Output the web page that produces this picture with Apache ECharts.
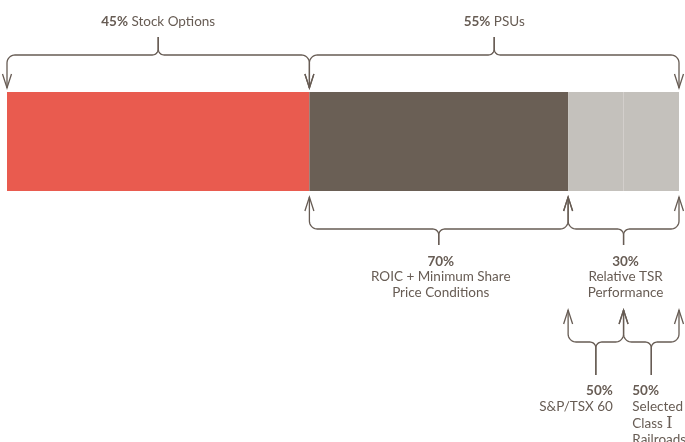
<!DOCTYPE html>
<html>
<head>
<meta charset="utf-8">
<script src="https://cdn.jsdelivr.net/npm/echarts@6/dist/echarts.min.js"></script>
<style>html,body{margin:0;padding:0;background:#fff}#c{width:685px;height:442px}</style>
</head>
<body>
<div id="c"></div>
<script>
// ---- data ----
const topShares = [45, 55];                 // Stock Options, PSUs (%)
const topLabels = ['Stock Options', 'PSUs'];
const psuSplit = [70, 30];                  // ROIC..., Relative TSR (% of PSUs)
const psuLabels = [['ROIC + Minimum Share', 'Price Conditions'], ['Relative TSR', 'Performance']];
const tsrSplit = [50, 50];                  // S&P/TSX 60, Selected Class I Railroads (% of TSR)
const tsrLabels = [['S&P/TSX 60'], ['Selected', 'Class I', 'Railroads']];
const segColors = ['#E95B4F', '#6A5F55', '#C4C1BC', '#C4C1BC'];

const segValues = [
  topShares[0],
  topShares[1] * psuSplit[0] / 100,
  topShares[1] * psuSplit[1] / 100 * tsrSplit[0] / 100,
  topShares[1] * psuSplit[1] / 100 * tsrSplit[1] / 100
];

const FONT = 'Lato, "Liberation Sans", sans-serif';
const INK = '#675C54';

const chart = echarts.init(document.getElementById('c'));
chart.setOption({
  animation: false,
  grid: { left: 7, right: 6, top: 92, bottom: 251 },
  xAxis: { type: 'value', min: 0, max: 100, show: false },
  yAxis: { type: 'category', data: ['mix'], show: false },
  series: segValues.map((v, i) => ({
    type: 'bar', stack: 'all', data: [v], barWidth: '100%',
    itemStyle: { color: segColors[i] }, silent: true
  }))
});

const px = v => chart.convertToPixel({ xAxisIndex: 0 }, v);
const cum = [0];
segValues.forEach(v => cum.push(cum[cum.length - 1] + v));
const X = cum.map(px);
const barTop = 92, barBot = 191;

const g = [];
function line(points, color, w) {
  g.push({ type: 'polyline', shape: { points }, style: { stroke: color || INK, lineWidth: w || 1.3, fill: null }, silent: true });
}
function brace(xa, xb, yArrow, yLine, yStem, r, rc) {
  const s = Math.sign(yArrow - yLine);
  const xc = (xa + xb) / 2;
  const pts = [[xa, yArrow], [xa, yLine + s * r]];
  const N = 10;
  for (let k = 1; k <= N; k++) {
    const t = Math.PI + s * (Math.PI / 2) * (k / N);
    pts.push([xa + r + r * Math.cos(t), yLine + s * r + r * Math.sin(t)]);
  }
  pts.push([xc - rc, yLine]);
  for (let k = 1; k <= N; k++) {
    const t = s * (Math.PI / 2) * (1 - k / N);
    pts.push([xc - rc + rc * Math.cos(t), yLine - s * rc + rc * Math.sin(t)]);
  }
  pts.push([xc, yStem]);
  line(pts);
  line(pts.map(p => [2 * xc - p[0], p[1]]));
  [xa, xb].forEach(x => line([[x - 4.5, yArrow - s * 14], [x, yArrow], [x + 4.5, yArrow - s * 14]]));
  return xc;
}
const richB = { b: { fontWeight: 'bold', fill: INK, fontSize: 13.5, fontFamily: FONT },
                s: { fill: INK, fontSize: 16, fontFamily: '"DejaVu Serif", "Liberation Serif", serif' } };
function text(str, x, y, align, bold) {
  // a standalone capital "I" (Roman numeral class) is set in a serif face, as in the original
  const t = str.replace(/ I$/, ' {s|I}');
  g.push({ type: 'text', silent: true, style: {
    text: t, x, y, textAlign: align || 'center', textVerticalAlign: 'middle',
    fill: INK, fontSize: 13.5, fontFamily: FONT, fontWeight: bold ? 'bold' : 'normal', rich: richB
  }});
}

// gap between the two light segments
g.push({ type: 'line', silent: true, shape: { x1: X[3], y1: barTop, x2: X[3], y2: barBot }, style: { stroke: '#fff', lineWidth: 2 } });

// level 1 (top)
const c1 = brace(X[0], X[1], 88, 55, 37, 8, 6);
const c2 = brace(X[1], X[4], 88, 55, 37, 8, 6);
text('{b|' + topShares[0] + '%} ' + topLabels[0], c1, 22, 'center');
text('{b|' + topShares[1] + '%} ' + topLabels[1], c2, 22, 'center');

// level 2
const c3 = brace(X[1], X[2], 197, 229, 245, 8, 6);
const c4 = brace(X[2], X[4], 197, 229, 245, 8, 6);
[c3, c4].forEach((c, i) => {
  text(psuSplit[i] + '%', c + 2, 262, 'center', true);
  psuLabels[i].forEach((l, j) => text(l, c + 2, 277 + 16 * j, 'center'));
});

// level 3
const c5 = brace(X[2], X[3], 310, 342, 375, 8, 6);
const c6 = brace(X[3], X[4], 310, 342, 375, 8, 6);
text(tsrSplit[0] + '%', c5 + 17, 391, 'right', true);
tsrLabels[0].forEach((l, j) => text(l, c5 + 17, 407 + 16.5 * j, 'right'));
text(tsrSplit[1] + '%', c6 - 19, 391, 'left', true);
tsrLabels[1].forEach((l, j) => text(l, c6 - 19, 407 + 16.5 * j, 'left'));

chart.setOption({ graphic: { elements: g } });
</script>
</body>
</html>
